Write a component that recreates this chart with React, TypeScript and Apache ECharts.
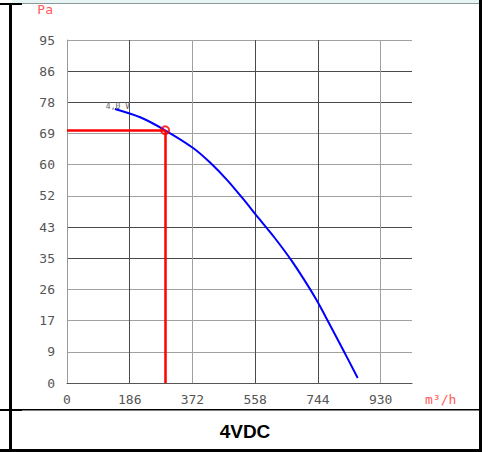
import React, { useEffect, useRef } from "react";
import * as echarts from "echarts";

// Fan performance curve at 4 V DC: airflow (m³/h) against static pressure (Pa)
const flowTicks = [0, 186, 372, 558, 744, 930];
const flowMax = 1023;
const pressureMax = 95;
const pressureSteps = 11;

const curveFlow = [142, 217, 291, 374, 425, 475, 523, 565, 615, 668, 737, 766, 817, 862];
const curvePressure = [75.9, 73.6, 70.0, 65.1, 61.0, 56.2, 50.9, 46.0, 40.3, 33.6, 23.5, 18.5, 9.5, 1.4];

const workingFlow = 291;
const workingPressure = 70;

const curveLabel = "4,0 V";
const title = "4VDC";

const monoFont = "'DejaVu Sans Mono', 'Liberation Mono', monospace";

export default function App() {
  const ref = useRef<HTMLDivElement>(null);

  useEffect(() => {
    if (!ref.current) return;
    const chart = echarts.init(ref.current, null, { renderer: "svg" });

    const curve = curveFlow.map((x, i) => [x, curvePressure[i]]);
    const dark = "#4a4a4a";
    const light = "#a0a0a0";

    chart.setOption({
      animation: false,
      backgroundColor: "#ffffff",
      grid: { left: 67, top: 40, right: 77, bottom: 69, containLabel: false },
      xAxis: {
        type: "value",
        min: 0,
        max: flowMax,
        interval: flowTicks[1] - flowTicks[0],
        name: "m³/h",
        nameLocation: "end",
        nameGap: 13,
        nameTextStyle: {
          color: "#ff5a5a",
          fontFamily: monoFont,
          fontSize: 13,
          verticalAlign: "top",
          padding: [10, 0, 0, 0],
        },
        axisLine: { show: true, lineStyle: { color: "#555", width: 1 } },
        axisTick: { show: false },
        axisLabel: {
          showMaxLabel: false,
          margin: 10,
          color: "#555",
          fontFamily: monoFont,
          fontSize: 13,
          formatter: (v: number) => String(Math.round(v)),
        },
        splitLine: {
          show: true,
          lineStyle: {
            width: 1,
            color: ["transparent", dark, light, dark, dark, light, "transparent"],
          },
        },
      },
      yAxis: {
        type: "value",
        min: 0,
        max: pressureMax,
        interval: pressureMax / pressureSteps,
        name: "Pa",
        nameLocation: "end",
        nameGap: 24,
        nameTextStyle: {
          color: "#ff5a5a",
          fontFamily: monoFont,
          fontSize: 13,
          align: "right",
          padding: [0, 14, 0, 0],
        },
        axisLine: { show: true, lineStyle: { color: "#999", width: 1 } },
        axisTick: { show: false },
        axisLabel: {
          margin: 12,
          color: "#555",
          fontFamily: monoFont,
          fontSize: 13,
          formatter: (v: number) => String(Math.round(v)),
        },
        splitLine: {
          show: true,
          lineStyle: {
            width: 1,
            color: ["transparent", light, light, light, dark, dark, light, light, light, dark, dark, light],
          },
        },
      },
      series: [
        {
          type: "line",
          data: curve,
          smooth: 0.3,
          symbol: "none",
          lineStyle: { color: "#0000ff", width: 2 },
          z: 3,
          markPoint: {
            symbol: "circle",
            symbolSize: 0,
            silent: true,
            data: [
              {
                coord: curve[0],
                label: {
                  show: true,
                  formatter: curveLabel,
                  position: "top",
                  distance: 0,
                  offset: [3, 2],
                  color: "#666",
                  fontFamily: monoFont,
                  fontSize: 8,
                },
              },
            ],
          },
        },
        {
          type: "scatter",
          data: [[workingFlow, workingPressure]],
          symbol: "circle",
          symbolSize: 8,
          itemStyle: { color: "rgba(255,255,255,0)", borderColor: "#ff0000", borderWidth: 2 },
          z: 4,
          markLine: {
            silent: true,
            symbol: ["none", "none"],
            label: { show: false },
            lineStyle: { color: "#ff0000", width: 2.5, type: "solid" },
            data: [
              [{ coord: [0, workingPressure] }, { coord: [workingFlow, workingPressure] }],
              [{ coord: [workingFlow, workingPressure] }, { coord: [workingFlow, 0] }],
            ],
          },
        },
      ],
      graphic: [
        { type: "rect", shape: { x: 12, y: 0, width: 467, height: 3 }, style: { fill: "#e6f4f4" }, silent: true },
        { type: "rect", shape: { x: 22, y: 3, width: 457, height: 1 }, style: { fill: "#8a9a9a" }, silent: true },
        { type: "rect", shape: { x: 0, y: 3, width: 22, height: 2 }, style: { fill: "#000" }, silent: true },
        { type: "rect", shape: { x: 9, y: 3, width: 3, height: 449 }, style: { fill: "#000" }, silent: true },
        { type: "rect", shape: { x: 479, y: 0, width: 3, height: 452 }, style: { fill: "#000" }, silent: true },
        { type: "rect", shape: { x: 0, y: 449, width: 482, height: 3 }, style: { fill: "#000" }, silent: true },
        { type: "rect", shape: { x: 0, y: 409, width: 22, height: 2 }, style: { fill: "#000" }, silent: true },
        { type: "rect", shape: { x: 22, y: 409, width: 457, height: 1.5 }, style: { fill: "#000" }, silent: true },
        {
          type: "text",
          x: 245,
          y: 431,
          style: {
            text: title,
            fill: "#000",
            font: "bold 19px 'Liberation Sans', Arial, sans-serif",
            textAlign: "center",
            textVerticalAlign: "middle",
          },
          silent: true,
        },
      ],
    });

    return () => chart.dispose();
  }, []);

  return (
    <div
      ref={ref}
      style={{ position: "fixed", left: 0, top: 0, width: 489, height: 452 }}
    />
  );
}
